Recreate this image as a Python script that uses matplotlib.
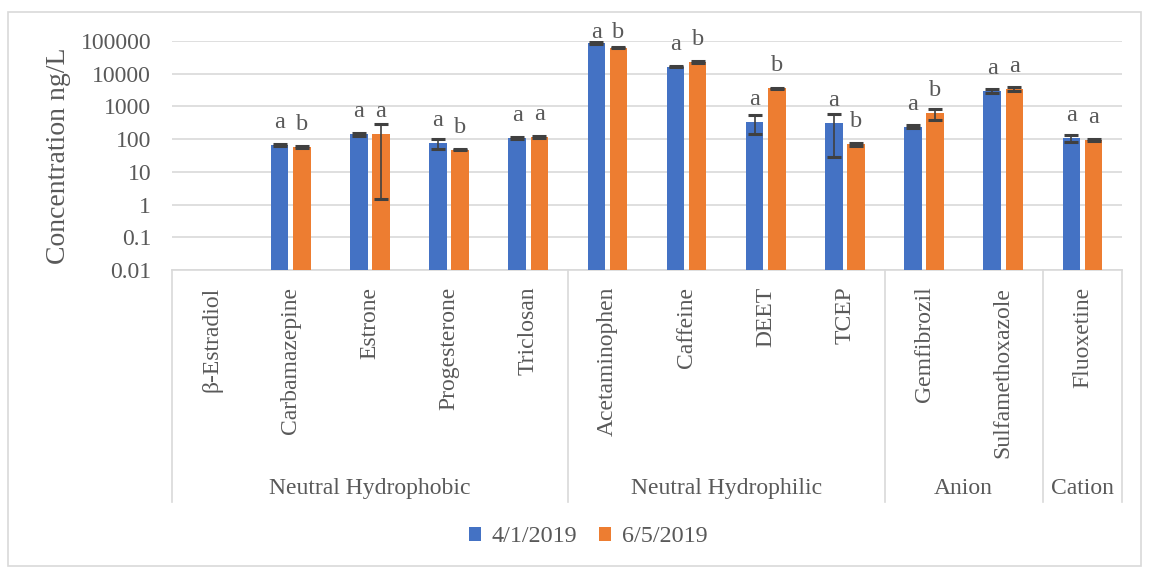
import numpy as np
import matplotlib
matplotlib.use('Agg')
import matplotlib.pyplot as plt
from matplotlib.patches import Rectangle

plt.rcParams['font.family'] = ['Liberation Serif', 'DejaVu Serif']

# data (ng/L)
compounds = ['β-Estradiol', 'Carbamazepine', 'Estrone', 'Progesterone', 'Triclosan',
             'Acetaminophen', 'Caffeine', 'DEET', 'TCEP',
             'Gemfibrozil', 'Sulfamethoxazole', 'Fluoxetine']
groups = ['Neutral Hydrophobic', 'Neutral Hydrophilic', 'Anion', 'Cation']
group_sizes = [5, 4, 2, 1]

apr = [np.nan, 66, 141, 74, 107, 89000, 16500, 340, 310, 240, 3000, 108]
apr_err = [np.nan, 4, 18, 24, 6, 6000, 900, 200, 282, 25, 500, 24]
jun = [np.nan, 57, 141, 48, 117, 63000, 23000, 3560, 69, 620, 3400, 94]
jun_err = [np.nan, 3, 139.5, 3, 6, 2000, 1200, 150, 8, 230, 400, 8]

apr_letters = ['', 'a', 'a', 'a', 'a', 'a', 'a', 'a', 'a', 'a', 'a', 'a']
jun_letters = ['', 'b', 'a', 'b', 'a', 'b', 'b', 'b', 'b', 'b', 'a', 'a']

labels = ['4/1/2019', '6/5/2019']
blue = '#4472C4'
orange = '#ED7D31'
txt = '#595959'

fig = plt.figure(figsize=(11.49, 5.68), dpi=100)
ax = fig.add_axes([172 / 1149, 1 - 270 / 568, 950 / 1149, 229 / 568])

x = np.arange(len(compounds))
w = 0.22
off = 0.14
ekw = dict(ecolor='#404040', elinewidth=1.2, capthick=2.2)
ax.bar(x - off, apr, w, yerr=apr_err, capsize=4.7, color=blue, label=labels[0],
       error_kw=ekw, zorder=3)
ax.bar(x + off, jun, w, yerr=jun_err, capsize=4.7, color=orange, label=labels[1],
       error_kw=ekw, zorder=3)

ax.set_yscale('log')
ax.set_ylim(0.01, 100000)
ax.set_xlim(-0.5, len(compounds) - 0.5)
ax.set_yticks([0.01, 0.1, 1, 10, 100, 1000, 10000, 100000])
ax.set_yticklabels(['0.01', '0.1', '1', '10', '100', '1000', '10000', '100000'])
ax.minorticks_off()
ax.tick_params(axis='y', length=0, pad=15, labelsize=17, labelcolor=txt)
ax.set_xticks(x)
ax.set_xticklabels(compounds, rotation=90, fontsize=17, color=txt)
ax.tick_params(axis='x', length=0, pad=12)
ax.grid(axis='y', color='#d9d9d9', linewidth=1.2, zorder=0)
for s in ['top', 'right', 'left']:
    ax.spines[s].set_visible(False)
ax.spines['bottom'].set_color('#d9d9d9')
ax.spines['bottom'].set_linewidth(1.2)
ax.set_ylabel('Concentration ng/L', fontsize=20, color=txt, labelpad=7)

# significance letters
lo, hi = np.log10(ax.get_ylim())
for xs, vals, lets in [(x - off, apr, apr_letters), (x + off, jun, jun_letters)]:
    for xi, v, t in zip(xs, vals, lets):
        if not t:
            continue
        frac = (np.log10(v) - lo) / (hi - lo) + 12 / 229
        frac = min(frac, 0.99)
        ax.text(xi, frac, t, transform=ax.get_xaxis_transform(), ha='center',
                va='bottom', fontsize=17.5, color=txt)

# group separators and labels
trans = ax.get_xaxis_transform()
edges = np.concatenate([[0], np.cumsum(group_sizes)]) - 0.5
for e in edges:
    ax.plot([e, e], [0, -1.013], transform=trans, color='#d9d9d9', lw=1.2,
            clip_on=False)
for g, a, b in zip(groups, edges[:-1], edges[1:]):
    ax.text((a + b) / 2, -0.955, g, transform=trans, ha='center', va='center',
            fontsize=17, color=txt)

fig.legend(loc='center', bbox_to_anchor=(0.512, 0.055), ncol=2, frameon=False,
           fontsize=17.4, handlelength=0.5, handleheight=0.5, columnspacing=0.9,
           handletextpad=0.45, labelcolor=txt)

fig.patches.append(Rectangle((8 / 1149, 2 / 568), 1133 / 1149, 554 / 568,
                             transform=fig.transFigure, fill=False,
                             edgecolor='#d9d9d9', lw=1.2))

fig.savefig('out.png', dpi=100)
